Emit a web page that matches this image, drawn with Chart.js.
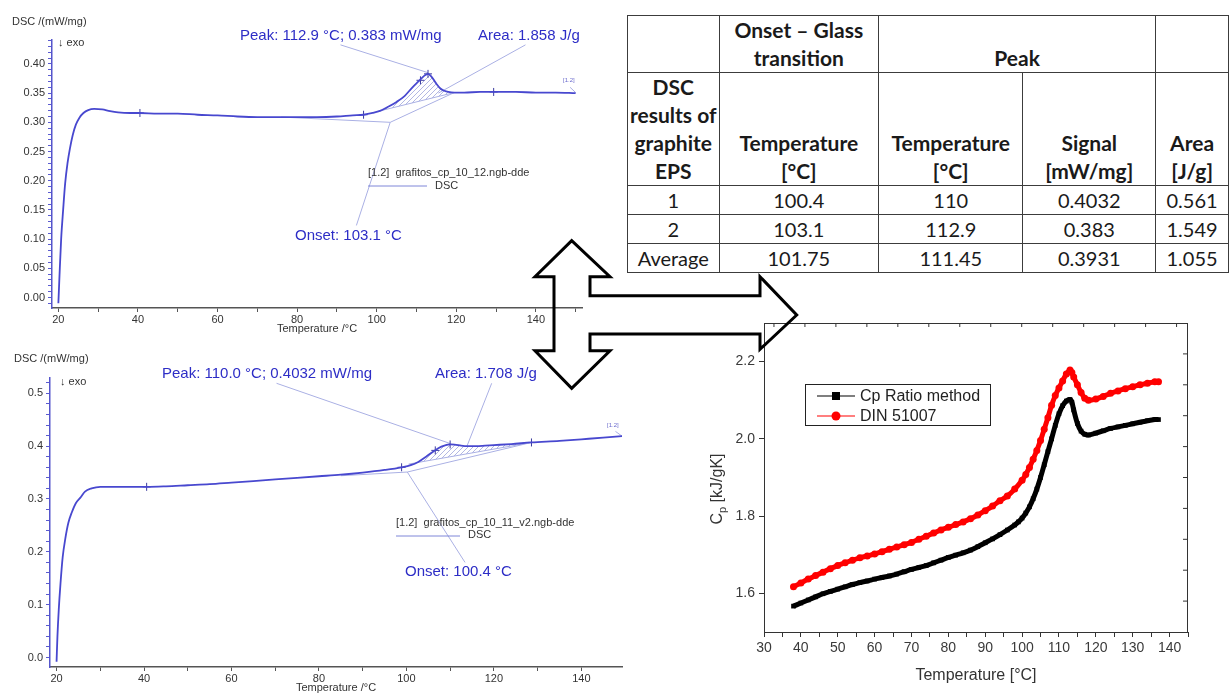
<!DOCTYPE html>
<html>
<head>
<meta charset="utf-8">
<script src="https://cdn.jsdelivr.net/npm/chart.js@4.4.1/dist/chart.umd.min.js"></script>
<style>
  html, body { margin: 0; padding: 0; background: #fff; }
  body { width: 1229px; height: 693px; position: relative; overflow: hidden; }
  canvas { position: absolute; }
  #dscTop { left: 0; top: 0; }
  #dscBottom { left: 0; top: 345px; }
  #cpChart { left: 690px; top: 310px; }
  table.results {
    position: absolute; left: 627px; top: 15px;
    border-collapse: collapse; table-layout: fixed;
    font-family: Lato, "Open Sans", sans-serif; font-size: 20px; color: #1a1a1a;
  }
  table.results td {
    border: 1px solid #3c3c3c; text-align: center; vertical-align: bottom;
    padding: 0 2px; line-height: 28px; overflow: hidden; white-space: nowrap;
  }
  table.results td.b { font-weight: bold; font-size: 21px; }
  table.results tr.v td { vertical-align: middle; height: 28px; }
  svg.arrow { position: absolute; left: 0; top: 0; pointer-events: none; }
</style>
</head>
<body>
<canvas id="dscTop" width="620" height="345"></canvas>
<canvas id="dscBottom" width="640" height="348"></canvas>
<canvas id="cpChart" width="539" height="383"></canvas>

<table class="results">
  <colgroup>
    <col style="width:83px"><col style="width:163px"><col style="width:147px"><col style="width:138px"><col style="width:75px">
  </colgroup>
  <tr style="height:57px">
    <td></td>
    <td class="b">Onset – Glass<br>transition</td>
    <td class="b" colspan="2">Peak</td>
    <td></td>
  </tr>
  <tr style="height:113px">
    <td class="b">DSC<br>results of<br>graphite<br>EPS</td>
    <td class="b">Temperature<br>[°C]</td>
    <td class="b">Temperature<br>[°C]</td>
    <td class="b">Signal<br>[mW/mg]</td>
    <td class="b">Area<br>[J/g]</td>
  </tr>
  <tbody id="tableBody"></tbody>
</table>

<svg class="arrow" width="1229" height="693">
  <path d="M571.7,240.7 L610,276.7 L590,276.7 L590,295.7 L760,295.7 L760,276.7 L796.7,315 L760,349.3 L760,334 L590,334 L590,350.7 L610,350.7 L571.7,388.3 L535,350.7 L554,350.7 L554,276.7 L535,276.7 Z"
        fill="none" stroke="#000" stroke-width="3" stroke-linejoin="miter"/>
</svg>

<script>
// ---- DSC run 2 (grafitos_cp_10_12) ----
const dsc2Temp = [20, 20.3, 20.7, 21.2, 21.7, 22.3, 22.9, 23.6, 24.4, 25.3, 26.3, 27.5, 29, 31, 33, 35, 38, 40.5,
  45, 50, 55, 60, 65, 70, 75, 80, 85, 90, 94, 96.7, 99, 101, 103, 105, 107, 109, 110.5, 112, 112.9, 113.8,
  114.8, 116, 117, 118, 119.5, 122, 126, 129.4, 135, 140, 145, 150];
const dsc2Signal = [-0.010, 0.040, 0.100, 0.150, 0.195, 0.230, 0.255, 0.278, 0.296, 0.308, 0.316, 0.321, 0.323,
  0.322, 0.319, 0.317, 0.316, 0.316, 0.315, 0.315, 0.313, 0.312, 0.310, 0.309, 0.309, 0.309, 0.309, 0.310, 0.312,
  0.313, 0.316, 0.320, 0.327, 0.335, 0.345, 0.360, 0.370, 0.380, 0.383, 0.378, 0.368, 0.358, 0.354, 0.352,
  0.351, 0.351, 0.352, 0.352, 0.352, 0.351, 0.351, 0.350];
const dsc2Marks = [[40.5, 0.316], [96.7, 0.313], [111.0, 0.372], [112.9, 0.383], [129.4, 0.352]];
const dsc2Peak = [[90.9, 0.4327], [112.9, 0.385]];
const dsc2AreaLeader = [[137.4, 0.4327], [115.5, 0.350]];
const dsc2OnsetLeader = [[103.4, 0.300], [94.9, 0.1234]];
const dsc2BaseExt = [[76, 0.309], [103.4, 0.300]];
const dsc2Tangent = [[103.4, 0.300], [119.5, 0.351]];
const dsc2AreaBase = [[100.5, 0.319], [119.5, 0.351]];
const dsc2EndTag = [[148.6, 0.360], [150, 0.351]];

// ---- DSC run 1 (grafitos_cp_10_11_v2) ----
const dsc1Temp = [20, 20.2, 20.5, 20.9, 21.4, 22, 22.7, 23.5, 24.4, 25.4, 26.5, 28, 30, 33, 36, 40.6, 45, 50, 55,
  60, 65, 70, 75, 80, 85, 90, 95, 98.9, 101, 102.7, 104.5, 106.5, 108, 109, 110, 111, 112.5, 114, 116, 118, 120,
  124, 128.6, 135, 140, 145, 149.3];
const dsc1Signal = [-0.008, 0.040, 0.090, 0.140, 0.190, 0.225, 0.255, 0.275, 0.292, 0.302, 0.314, 0.320, 0.323,
  0.323, 0.323, 0.323, 0.324, 0.326, 0.328, 0.331, 0.334, 0.337, 0.340, 0.343, 0.346, 0.350, 0.355, 0.360, 0.364,
  0.370, 0.380, 0.392, 0.399, 0.402, 0.4032, 0.403, 0.401, 0.400, 0.400, 0.401, 0.402, 0.404, 0.407, 0.410, 0.413,
  0.416, 0.419];
const dsc1Marks = [[40.6, 0.323], [98.9, 0.360], [106.6, 0.392], [110.0, 0.4032], [128.6, 0.407]];
const dsc1Peak = [[70.3, 0.519], [110.0, 0.405]];
const dsc1AreaLeader = [[119.5, 0.519], [113.8, 0.399]];
const dsc1OnsetLeader = [[100.2, 0.351], [113.4, 0.180]];
const dsc1BaseExt = [[85, 0.344], [100.2, 0.351]];
const dsc1Tangent = [[100.2, 0.351], [128.6, 0.407]];
const dsc1AreaBase = [[100.5, 0.366], [128.6, 0.407]];
const dsc1EndTag = [[147.8, 0.428], [149.3, 0.419]];

// ---- Specific heat capacity ----
const cpRatioTemp = [38, 40, 42, 44, 46, 48, 50, 52, 54, 56, 58, 60, 62, 64, 66, 68, 70, 72, 74, 76, 78, 80, 82, 84,
  86, 88, 90, 92, 94, 96, 98, 99, 100, 101, 102, 103, 104, 105, 106, 107, 108, 109, 110, 111, 112, 113, 113.5, 114,
  115, 116, 117, 118, 120, 122, 124, 126, 128, 130, 132, 134, 136, 137];
const cpRatio = [1.567, 1.575, 1.583, 1.591, 1.599, 1.605, 1.611, 1.617, 1.623, 1.628, 1.632, 1.637, 1.641, 1.645,
  1.650, 1.656, 1.662, 1.667, 1.672, 1.679, 1.686, 1.693, 1.699, 1.705, 1.712, 1.721, 1.731, 1.741, 1.752, 1.764,
  1.777, 1.785, 1.795, 1.808, 1.824, 1.845, 1.870, 1.900, 1.933, 1.967, 2.000, 2.035, 2.065, 2.086, 2.098, 2.102,
  2.095, 2.075, 2.040, 2.020, 2.012, 2.010, 2.015, 2.021, 2.027, 2.031, 2.035, 2.039, 2.043, 2.047, 2.050, 2.050];
const dinTemp = [38, 40, 42, 44, 46, 48, 50, 52, 54, 56, 58, 60, 62, 64, 66, 68, 70, 72, 74, 76, 78, 80, 82, 84, 86,
  88, 90, 92, 94, 96, 98, 100, 101, 102, 103, 104, 105, 106, 107, 108, 109, 110, 111, 112, 113, 113.5, 114, 115,
  116, 117, 118, 120, 122, 124, 126, 128, 130, 132, 134, 136, 137];
const din51007 = [1.617, 1.627, 1.637, 1.646, 1.655, 1.664, 1.672, 1.679, 1.686, 1.692, 1.697, 1.702, 1.708, 1.714,
  1.720, 1.726, 1.732, 1.740, 1.748, 1.756, 1.764, 1.771, 1.778, 1.785, 1.793, 1.803, 1.814, 1.826, 1.840, 1.852,
  1.870, 1.893, 1.908, 1.926, 1.947, 1.970, 1.996, 2.025, 2.055, 2.087, 2.112, 2.132, 2.150, 2.168, 2.178, 2.172,
  2.160, 2.140, 2.120, 2.105, 2.100, 2.103, 2.110, 2.118, 2.124, 2.130, 2.135, 2.140, 2.144, 2.148, 2.148];
const cpYLabels = [1.6, 1.8, 2.0, 2.2];
const cpRightTicks = [2.22, 2.14, 2.06, 1.98, 1.90, 1.82, 1.74, 1.66, 1.58];
const cpTopTicks = [32.7, 41.1, 49.5, 57.9, 66.3, 74.7, 83.1, 91.5, 99.9, 108.3, 116.7, 125.1, 133.5, 141.9];

// ---- Table ----
const tableRows = ['1', '2', 'Average'];
const onsetTemp = ['100.4', '103.1', '101.75'];
const peakTemp = ['110', '112.9', '111.45'];
const peakSignal = ['0.4032', '0.383', '0.3931'];
const peakArea = ['0.561', '1.549', '1.055'];

const body = document.getElementById('tableBody');
tableRows.forEach((r, i) => {
  const tr = document.createElement('tr');
  tr.className = 'v';
  [r, onsetTemp[i], peakTemp[i], peakSignal[i], peakArea[i]].forEach(v => {
    const td = document.createElement('td');
    td.textContent = v;
    tr.appendChild(td);
  });
  body.appendChild(tr);
});

// ---- helpers ----
const SANS = '"Liberation Sans", Arial, sans-serif';
const BLUE_TEXT = '#2d2dc6';
const CURVE = '#4848cf';
const GUIDE = '#aab0e4';

const pts = (xs, ys) => xs.map((x, i) => ({ x, y: ys[i] }));
const pairs = arr => arr.map(([x, y]) => ({ x, y }));

const hatchPattern = (() => {
  const c = document.createElement('canvas');
  c.width = 5; c.height = 5;
  const g = c.getContext('2d');
  g.strokeStyle = '#9ea4dc';
  g.lineWidth = 0.8;
  g.beginPath(); g.moveTo(0, 5); g.lineTo(5, 0); g.stroke();
  return g.createPattern(c, 'repeat');
})();

// region between curve and straight integration baseline
function areaPolygon(xs, ys, base) {
  const [a, b] = base;
  const seg = pts(xs, ys).filter(p => p.x >= a[0] && p.x <= b[0]);
  return [{ x: a[0], y: a[1] }, ...seg, { x: b[0], y: b[1] }, { x: a[0], y: a[1] }];
}

function guide(data) {
  return { data: pairs(data), borderColor: GUIDE, borderWidth: 1, pointRadius: 0, tension: 0, fill: false };
}

const textPlugin = (items, lines) => ({
  id: 'texts',
  afterDraw(chart) {
    const c = chart.ctx;
    c.save();
    (lines || []).forEach(l => {
      c.strokeStyle = l.color; c.lineWidth = 1;
      c.beginPath(); c.moveTo(l.x1, l.y1); c.lineTo(l.x2, l.y2); c.stroke();
    });
    items.forEach(t => {
      c.font = t.font;
      c.fillStyle = t.color;
      c.textAlign = t.align || 'left';
      c.textBaseline = 'middle';
      c.fillText(t.text, t.x, t.y);
    });
    c.restore();
  }
});

function dscChart(id, opt) {
  const ctx = document.getElementById(id);
  return new Chart(ctx, {
    type: 'line',
    data: {
      datasets: [
        { data: pts(opt.temp, opt.signal), borderColor: CURVE, borderWidth: 1.8, pointRadius: 0,
          cubicInterpolationMode: 'monotone', fill: false },
        { data: pairs(opt.marks), showLine: false, pointStyle: 'cross', pointRadius: 4,
          borderColor: '#3b3b9e', borderWidth: 1 },
        guide(opt.peak), guide(opt.areaLeader), guide(opt.onsetLeader),
        guide(opt.baseExt), guide(opt.tangent), guide(opt.areaBase), guide(opt.endTag),
        { data: areaPolygon(opt.temp, opt.signal, opt.areaBase), fill: 'shape', backgroundColor: hatchPattern,
          borderWidth: 0, pointRadius: 0, tension: 0 }
      ]
    },
    options: {
      responsive: false, animation: false, devicePixelRatio: 1,
      layout: { padding: opt.padding },
      plugins: { legend: { display: false }, tooltip: { enabled: false } },
      scales: {
        x: {
          type: 'linear', min: opt.xMin, max: opt.xMax,
          afterFit: s => { s.height = opt.xHeight; },
          ticks: { stepSize: 10, includeBounds: false, autoSkip: false, maxRotation: 0, padding: 1,
            color: '#333', font: { family: SANS, size: 11 },
            callback: v => (v % 20 === 0 ? String(v) : '') },
          grid: { drawOnChartArea: false, tickLength: 4, tickColor: '#555' },
          border: { color: '#555', width: 1.5 }
        },
        y: {
          type: 'linear', min: opt.yMin, max: opt.yMax,
          afterFit: s => { s.width = opt.yWidth; },
          ticks: { stepSize: opt.yStep, includeBounds: false, autoSkip: false, padding: 3,
            color: '#333', font: { family: SANS, size: 11 },
            callback: v => {
              const r = Math.round(v / opt.yStep);
              return r % opt.yLabelEvery === 0 ? (r * opt.yStep).toFixed(opt.yDigits) : '';
            } },
          grid: { drawOnChartArea: false, tickLength: 4, tickColor: '#5a5ad0' },
          border: { color: '#5555cc', width: 1.5 }
        }
      }
    },
    plugins: [textPlugin(opt.texts, opt.lines)]
  });
}

dscChart('dscTop', {
  temp: dsc2Temp, signal: dsc2Signal, marks: dsc2Marks,
  peak: dsc2Peak, areaLeader: dsc2AreaLeader, onsetLeader: dsc2OnsetLeader,
  baseExt: dsc2BaseExt, tangent: dsc2Tangent, areaBase: dsc2AreaBase, endTag: dsc2EndTag,
  xMin: 18.4, xMax: 151.6, yMin: -0.018, yMax: 0.441, yStep: 0.01, yLabelEvery: 5, yDigits: 2,
  padding: { left: 0, right: 38, top: 40, bottom: 0 }, xHeight: 37, yWidth: 52,
  texts: [
    { text: 'DSC /(mW/mg)', x: 12, y: 22, font: `11px ${SANS}`, color: '#333' },
    { text: '↓ exo', x: 58, y: 43, font: `11px ${SANS}`, color: '#333' },
    { text: 'Peak: 112.9 °C; 0.383 mW/mg', x: 240, y: 36, font: `15px ${SANS}`, color: BLUE_TEXT },
    { text: 'Area: 1.858 J/g', x: 478, y: 36, font: `15px ${SANS}`, color: BLUE_TEXT },
    { text: '[1.2]  grafitos_cp_10_12.ngb-dde', x: 368, y: 173, font: `11px ${SANS}`, color: '#333' },
    { text: 'DSC', x: 435, y: 186, font: `11px ${SANS}`, color: '#333' },
    { text: 'Onset: 103.1 °C', x: 295, y: 236, font: `15px ${SANS}`, color: BLUE_TEXT },
    { text: '[1.2]', x: 563, y: 80, font: `6px ${SANS}`, color: '#6a6acc' },
    { text: 'Temperature /°C', x: 317, y: 329, font: `11px ${SANS}`, color: '#333', align: 'center' }
  ],
  lines: [{ x1: 368, y1: 186, x2: 427, y2: 186, color: '#7f86d8' }]
});

dscChart('dscBottom', {
  temp: dsc1Temp, signal: dsc1Signal, marks: dsc1Marks,
  peak: dsc1Peak, areaLeader: dsc1AreaLeader, onsetLeader: dsc1OnsetLeader,
  baseExt: dsc1BaseExt, tangent: dsc1Tangent, areaBase: dsc1AreaBase, endTag: dsc1EndTag,
  xMin: 18.5, xMax: 149.3, yMin: -0.018, yMax: 0.529, yStep: 0.02, yLabelEvery: 5, yDigits: 1,
  padding: { left: 0, right: 18, top: 33, bottom: 0 }, xHeight: 26, yWidth: 50,
  texts: [
    { text: 'DSC /(mW/mg)', x: 14, y: 14, font: `11px ${SANS}`, color: '#333' },
    { text: '↓ exo', x: 60, y: 37, font: `11px ${SANS}`, color: '#333' },
    { text: 'Peak: 110.0 °C; 0.4032 mW/mg', x: 162, y: 29, font: `15px ${SANS}`, color: BLUE_TEXT },
    { text: 'Area: 1.708 J/g', x: 435, y: 29, font: `15px ${SANS}`, color: BLUE_TEXT },
    { text: '[1.2]  grafitos_cp_10_11_v2.ngb-dde', x: 396, y: 178, font: `11px ${SANS}`, color: '#333' },
    { text: 'DSC', x: 468, y: 190, font: `11px ${SANS}`, color: '#333' },
    { text: 'Onset: 100.4 °C', x: 405, y: 227, font: `15px ${SANS}`, color: BLUE_TEXT },
    { text: '[1.2]', x: 607, y: 80, font: `6px ${SANS}`, color: '#6a6acc' },
    { text: 'Temperature /°C', x: 336, y: 343, font: `11px ${SANS}`, color: '#333', align: 'center' }
  ],
  lines: [{ x1: 396, y1: 191, x2: 460, y2: 191, color: '#7f86d8' }]
});

// ---- Cp chart: frame, inner ticks, legend, axis titles ----
const cpDecor = {
  id: 'cpDecor',
  afterDraw(chart) {
    const c = chart.ctx, a = chart.chartArea;
    const xs = chart.scales.x, ys = chart.scales.y;
    c.save();
    c.strokeStyle = '#333'; c.lineWidth = 1;
    c.beginPath();
    c.moveTo(a.left, a.top + 0.5); c.lineTo(a.right, a.top + 0.5);
    c.moveTo(a.right - 0.5, a.top); c.lineTo(a.right - 0.5, a.bottom);
    cpTopTicks.forEach(v => { const x = xs.getPixelForValue(v); c.moveTo(x, a.top); c.lineTo(x, a.top + 4); });
    cpRightTicks.forEach(v => { const y = ys.getPixelForValue(v); c.moveTo(a.right, y); c.lineTo(a.right - 5, y); });
    c.stroke();

    // legend
    const lx = a.left + 41, ly = a.top + 61;
    c.fillStyle = '#fff';
    c.fillRect(lx, ly, 186, 42);
    c.strokeStyle = '#222'; c.lineWidth = 1;
    c.strokeRect(lx + 0.5, ly + 0.5, 185, 41);
    const rows = [
      { label: 'Cp Ratio method', color: '#000', style: 'rect', y: ly + 12 },
      { label: 'DIN 51007', color: '#f00', style: 'circle', y: ly + 32 }
    ];
    c.font = `16px ${SANS}`; c.textBaseline = 'middle'; c.textAlign = 'left';
    rows.forEach(r => {
      c.strokeStyle = r.color; c.lineWidth = 1.2;
      c.beginPath(); c.moveTo(lx + 12, r.y); c.lineTo(lx + 50, r.y); c.stroke();
      c.fillStyle = r.color;
      if (r.style === 'rect') c.fillRect(lx + 27, r.y - 4, 8, 8);
      else { c.beginPath(); c.arc(lx + 31, r.y, 4.5, 0, Math.PI * 2); c.fill(); }
      c.fillStyle = '#222';
      c.fillText(r.label, lx + 55, r.y + 1);
    });

    // axis titles
    c.fillStyle = '#333';
    c.font = `16px ${SANS}`; c.textAlign = 'center';
    c.fillText('Temperature [°C]', (a.left + a.right) / 2, 366);
    c.translate(28, 179);
    c.rotate(-Math.PI / 2);
    const big = `16px ${SANS}`, small = `11px ${SANS}`;
    c.font = big; const wC = c.measureText('C').width; const wR = c.measureText(' [kJ/gK]').width;
    c.font = small; const wP = c.measureText('p').width;
    let x0 = -(wC + wP + wR) / 2;
    c.textAlign = 'left';
    c.font = big; c.fillText('C', x0, 0);
    c.font = small; c.fillText('p', x0 + wC, 5);
    c.font = big; c.fillText(' [kJ/gK]', x0 + wC + wP, 0);
    c.restore();
  }
};

new Chart(document.getElementById('cpChart'), {
  type: 'line',
  data: {
    datasets: [
      { label: 'Cp Ratio method', data: pts(cpRatioTemp, cpRatio), borderColor: '#000', backgroundColor: '#000',
        borderWidth: 5, pointStyle: 'rect', pointRadius: 3.3, pointBorderWidth: 0, tension: 0.3, fill: false },
      { label: 'DIN 51007', data: pts(dinTemp, din51007), borderColor: '#ff0000', backgroundColor: '#ff0000',
        borderWidth: 5, pointStyle: 'circle', pointRadius: 3.5, pointBorderWidth: 0, tension: 0.3, fill: false }
    ]
  },
  options: {
    responsive: false, animation: false, devicePixelRatio: 1,
    layout: { padding: { left: 0, right: 41, top: 13, bottom: 0 } },
    plugins: { legend: { display: false }, tooltip: { enabled: false } },
    scales: {
      x: {
        type: 'linear', min: 30, max: 145,
        afterFit: s => { s.height = 61; },
        ticks: { stepSize: 5, includeBounds: false, autoSkip: false, maxRotation: 0, padding: 3,
          color: '#3a3a3a', font: { family: SANS, size: 14 },
          callback: v => (v % 10 === 0 ? String(v) : '') },
        grid: { drawOnChartArea: false, tickLength: 5, tickColor: '#333' },
        border: { color: '#333', width: 1 }
      },
      y: {
        type: 'linear', min: 1.5, max: 2.3,
        afterFit: s => { s.width = 74; },
        afterBuildTicks: s => { s.ticks = cpYLabels.map(v => ({ value: v })); },
        ticks: { padding: 4, color: '#3a3a3a', font: { family: SANS, size: 14 },
          callback: v => v.toFixed(1) },
        grid: { drawOnChartArea: false, tickLength: 5, tickColor: '#333' },
        border: { color: '#333', width: 1 }
      }
    }
  },
  plugins: [cpDecor]
});
</script>
</body>
</html>
